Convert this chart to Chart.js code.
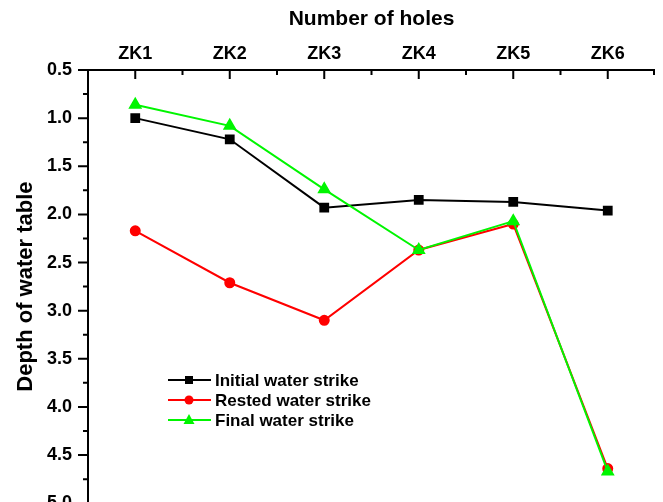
<!DOCTYPE html>
<html>
<head>
<meta charset="utf-8">
<script src="https://cdn.jsdelivr.net/npm/chart.js@4"></script>
<style>
  html, body { margin: 0; padding: 0; background: #fff; overflow: hidden; }
  #wrap { width: 663px; height: 530px; }
</style>
</head>
<body>
<div id="wrap"><canvas id="myChart" width="663" height="530"></canvas></div>
<script>
const holes = ['ZK1', 'ZK2', 'ZK3', 'ZK4', 'ZK5', 'ZK6']
const initialStrike = [1.00, 1.22, 1.93, 1.85, 1.87, 1.96]
const restedStrike = [2.17, 2.71, 3.10, 2.37, 2.10, 4.64]
const finalStrike = [0.86, 1.08, 1.74, 2.37, 2.07, 4.67]
const depthTicks = [0.5, 1.0, 1.5, 2.0, 2.5, 3.0, 3.5, 4.0, 4.5, 5.0]

const FONT = 'Arial, "Liberation Sans", sans-serif'

// axis lines + inward ticks on top axis, outward ticks on left axis
const axisTicks = {
  id: 'axisTicks',
  afterDraw(chart) {
    const ctx = chart.ctx
    const a = chart.chartArea
    const x = chart.scales.x
    const y = chart.scales.y
    ctx.save()
    ctx.strokeStyle = '#000'
    ctx.lineWidth = 2
    ctx.beginPath()
    ctx.moveTo(a.left - 1, a.top)
    ctx.lineTo(a.right, a.top)
    ctx.moveTo(a.left, a.top)
    ctx.lineTo(a.left, a.bottom)
    ctx.stroke()

    ctx.beginPath()
    holes.forEach((h, i) => {
      const px = x.getPixelForValue(i)
      ctx.moveTo(px, a.top)
      ctx.lineTo(px, a.top + 9)
    })
    for (let i = 0; i <= holes.length; i++) {
      const px = Math.min(x.getPixelForValue(i - 0.5), a.right - 1)
      ctx.moveTo(px, a.top)
      ctx.lineTo(px, a.top + 5)
    }
    for (let v = 0.5; v <= 5.001; v += 0.25) {
      const py = y.getPixelForValue(v)
      const major = Math.abs(v * 2 - Math.round(v * 2)) < 0.001
      ctx.moveTo(a.left, py)
      ctx.lineTo(a.left - (major ? 10 : 5), py)
    }
    ctx.stroke()
    ctx.restore()
  }
}

// legend inside the plot
const innerLegend = {
  id: 'innerLegend',
  afterDraw(chart) {
    const ctx = chart.ctx
    const a = chart.chartArea
    const x0 = a.left + 80
    const y0 = a.top + 310
    ctx.save()
    ctx.font = 'bold 17px ' + FONT
    ctx.textBaseline = 'middle'
    chart.data.datasets.forEach((ds, i) => {
      const yy = y0 + i * 20
      ctx.strokeStyle = ds.borderColor
      ctx.lineWidth = 2
      ctx.beginPath()
      ctx.moveTo(x0, yy)
      ctx.lineTo(x0 + 43, yy)
      ctx.stroke()
      const cx = x0 + 21
      ctx.fillStyle = ds.pointBackgroundColor
      ctx.beginPath()
      if (ds.pointStyle === 'rect') {
        ctx.rect(cx - 4, yy - 4, 8, 8)
      } else if (ds.pointStyle === 'circle') {
        ctx.arc(cx, yy, 4.5, 0, Math.PI * 2)
      } else {
        ctx.moveTo(cx, yy - 6)
        ctx.lineTo(cx + 5.5, yy + 4)
        ctx.lineTo(cx - 5.5, yy + 4)
        ctx.closePath()
      }
      ctx.fill()
      ctx.fillStyle = '#000'
      ctx.fillText(ds.label, x0 + 47, yy + 1)
    })
    ctx.restore()
  }
}

const ctx = document.getElementById('myChart')
new Chart(ctx, {
  type: 'line',
  data: {
    labels: holes,
    datasets: [{
      label: 'Initial water strike',
      data: initialStrike,
      borderColor: '#000000',
      backgroundColor: '#000000',
      pointBackgroundColor: '#000000',
      pointBorderColor: '#000000',
      pointStyle: 'rect',
      pointRadius: 5.5,
      borderWidth: 2,
      order: 1
    }, {
      label: 'Rested water strike',
      data: restedStrike,
      borderColor: '#ff0000',
      backgroundColor: '#ff0000',
      pointBackgroundColor: '#ff0000',
      pointBorderColor: '#ff0000',
      pointStyle: 'circle',
      pointRadius: 4.5,
      borderWidth: 2,
      order: 2
    }, {
      label: 'Final water strike',
      data: finalStrike,
      borderColor: '#00f500',
      backgroundColor: '#00f500',
      pointBackgroundColor: '#00f500',
      pointBorderColor: '#00f500',
      pointStyle: 'triangle',
      pointRadius: 6,
      borderWidth: 2,
      order: 0
    }]
  },
  options: {
    responsive: false,
    animation: false,
    layout: { padding: { left: 0, right: 6, top: 0, bottom: 10 } },
    plugins: {
      legend: { display: false },
      tooltip: { enabled: false }
    },
    scales: {
      x: {
        position: 'top',
        offset: true,
        grid: { display: false, drawTicks: false },
        border: { display: false },
        ticks: {
          color: '#000',
          padding: 5,
          font: { family: FONT, size: 18, weight: 'bold' }
        },
        title: {
          display: true,
          text: 'Number of holes',
          color: '#000',
          padding: { top: 7, bottom: 4 },
          font: { family: FONT, size: 21, weight: 'bold' }
        },
        afterFit(scale) { scale.height = 70 }
      },
      y: {
        reverse: true,
        min: 0.5,
        max: 5.0,
        grid: { display: false, drawTicks: false },
        border: { display: false },
        afterBuildTicks(scale) {
          scale.ticks = depthTicks.map(v => ({ value: v }))
        },
        ticks: {
          color: '#000',
          padding: 16,
          font: { family: FONT, size: 18, weight: 'bold' },
          callback: v => Number(v).toFixed(1)
        },
        title: {
          display: true,
          text: 'Depth of water table',
          color: '#000',
          padding: { top: 13, bottom: 4 },
          font: { family: FONT, size: 22, weight: 'bold' }
        },
        afterFit(scale) { scale.width = 88 }
      }
    }
  },
  plugins: [axisTicks, innerLegend]
})
</script>
</body>
</html>
